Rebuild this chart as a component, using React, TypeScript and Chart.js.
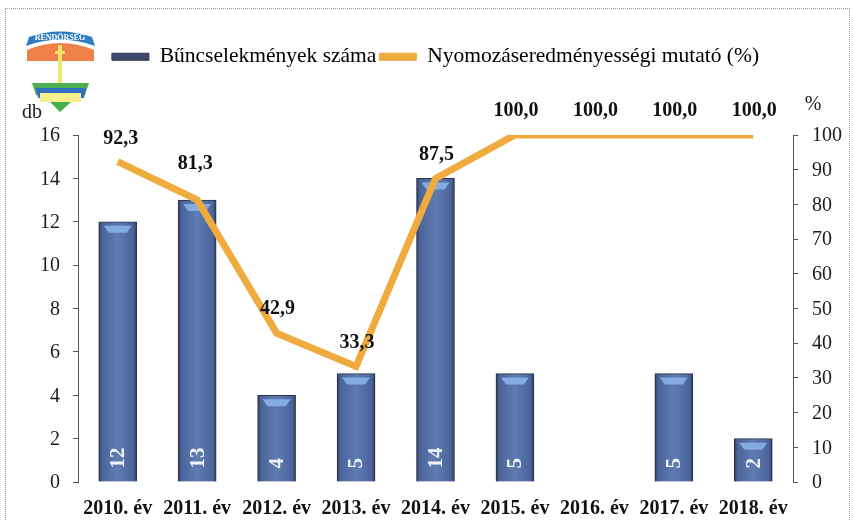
import React, { useEffect, useRef } from "react";
import { Chart, registerables } from "chart.js";

Chart.register(...registerables);

const categories = ["2010. év", "2011. év", "2012. év", "2013. év", "2014. év", "2015. év", "2016. év", "2017. év", "2018. év"];
const crimes = [12, 13, 4, 5, 14, 5, null, 5, 2];
const clearance = [92.3, 81.3, 42.9, 33.3, 87.5, 100, 100, 100, 100];
const clearanceLabels = ["92,3", "81,3", "42,9", "33,3", "87,5", "100,0", "100,0", "100,0", "100,0"];
const crimesName = "Bűncselekmények száma";
const clearanceName = "Nyomozáseredményességi mutató (%)";

const SERIF = "'Liberation Serif', serif";
const INK = "#1c1c1c";
const ORANGE = "#EFAB3E";

const decorations = {
  id: "decorations",
  beforeLayout(chart: any) {
    const l = chart.legend;
    if (l && !l.__wrapped) {
      const fit = l.fit;
      l.fit = function () {
        fit.call(this);
        this.height = 92;
      };
      l.__wrapped = true;
    }
  },
  afterDatasetsDraw(chart: any) {
    const { ctx } = chart;
    const barMeta = chart.getDatasetMeta(0);
    const lineMeta = chart.getDatasetMeta(1);
    ctx.save();
    barMeta.data.forEach((b: any, i: number) => {
      if (crimes[i] == null) return;
      ctx.save();
      ctx.translate(b.x, b.base - 13);
      ctx.rotate(-Math.PI / 2);
      ctx.fillStyle = "#eef2f8";
      ctx.font = `bold 21px ${SERIF}`;
      ctx.textAlign = "left";
      ctx.textBaseline = "middle";
      ctx.fillText(String(crimes[i]), 0, 1);
      ctx.restore();
    });
    ctx.fillStyle = "#111";
    ctx.font = `bold 20px ${SERIF}`;
    ctx.textAlign = "center";
    ctx.textBaseline = "middle";
    lineMeta.data.forEach((p: any, i: number) => {
      const lift = i === 0 ? 23 : i === 1 ? 36 : 24;
      const nudge = i === 0 ? 3 : i === 1 ? -2 : 1;
      ctx.fillText(clearanceLabels[i], p.x + nudge, p.y - lift);
    });
    ctx.font = `20px ${SERIF}`;
    ctx.fillStyle = INK;
    ctx.fillText("db", 32, 113);
    ctx.fillText("%", 813, 105);
    ctx.restore();
  },
  afterDatasetDraw(chart: any, args: any) {
    if (args.index !== 0) return;
    const { ctx } = chart;
    ctx.save();
    args.meta.data.forEach((b: any, i: number) => {
      if (crimes[i] == null) return;
      const w = b.width;
      const x0 = b.x - w / 2 + 5;
      const x1 = b.x + w / 2 - 5;
      ctx.fillStyle = "#84ACE2";
      ctx.beginPath();
      ctx.moveTo(x0, b.y + 4);
      ctx.lineTo(x1, b.y + 4);
      ctx.lineTo(x1 - 5, b.y + 11);
      ctx.lineTo(x0 + 5, b.y + 11);
      ctx.closePath();
      ctx.fill();
    });
    ctx.restore();
  },
};

export default function App() {
  const ref = useRef<HTMLCanvasElement>(null);
  useEffect(() => {
    const chart = new Chart(ref.current!, {
      type: "bar",
      plugins: [decorations],
      data: {
        labels: categories,
        datasets: [
          {
            type: "bar",
            label: crimesName,
            data: crimes,
            yAxisID: "y",
            barThickness: 38,
            order: 2,
            borderColor: "#2b3448",
            borderWidth: 1,
            backgroundColor: (c: any) => {
              const xs = c.chart.scales.x;
              if (!xs) return "#4f6a9c";
              const x = xs.getPixelForValue(c.dataIndex);
              const g = c.chart.ctx.createLinearGradient(x - 19, 0, x + 19, 0);
              g.addColorStop(0, "#2c3650");
              g.addColorStop(0.08, "#4a639a");
              g.addColorStop(0.5, "#5f7cb0");
              g.addColorStop(0.92, "#4a639a");
              g.addColorStop(1, "#2c3650");
              return g;
            },
          },
          {
            type: "line",
            label: clearanceName,
            data: clearance,
            yAxisID: "y1",
            borderColor: ORANGE,
            backgroundColor: ORANGE,
            borderWidth: 7,
            pointRadius: 0,
            tension: 0,
            order: 1,
            borderJoinStyle: "miter",
          },
        ] as any,
      },
      options: {
        responsive: false,
        animation: false,
        layout: { padding: { left: 18, right: 0, top: 43, bottom: 0 } },
        plugins: {
          tooltip: { enabled: false },
          legend: {
            position: "top",
            labels: {
              boxWidth: 37,
              boxHeight: 7,
              padding: 3,
              color: INK,
              font: { family: SERIF, size: 21.5 },
              generateLabels: () => [
                { text: crimesName, fillStyle: "#3c4a6e", strokeStyle: "#2b3448", lineWidth: 1, datasetIndex: 0 },
                { text: clearanceName, fillStyle: ORANGE, strokeStyle: ORANGE, lineWidth: 1, datasetIndex: 1 },
              ],
            },
          },
        },
        scales: {
          x: {
            grid: { display: false },
            border: { display: false },
            ticks: { color: "#111", font: { family: SERIF, size: 20, weight: "bold" }, maxRotation: 0, autoSkip: false, padding: 7 },
            afterFit: (s: any) => { s.height = 38; },
          },
          y: {
            position: "left",
            min: 0,
            max: 16,
            grid: { drawOnChartArea: false, drawTicks: true, tickLength: 5, color: "#555" },
            border: { display: true, color: "#555", dash: [1, 1] },
            ticks: { stepSize: 2, color: INK, font: { family: SERIF, size: 20 }, padding: 13, labelOffset: 1 },
            afterFit: (s: any) => { s.width = 60; },
          },
          y1: {
            position: "right",
            min: 0,
            max: 100,
            grid: { drawOnChartArea: false, drawTicks: true, tickLength: 5, color: "#555" },
            border: { display: true, color: "#555", dash: [1, 1] },
            ticks: { stepSize: 10, color: INK, font: { family: SERIF, size: 20 }, padding: 14, labelOffset: 1 },
            afterFit: (s: any) => { s.width = 60; },
          },
        },
      } as any,
    });
    return () => chart.destroy();
  }, []);

  return (
    <div style={{ position: "fixed", left: 0, top: 0, width: 853, height: 520, background: "#fff" }}>
      <canvas ref={ref} width={853} height={520} style={{ position: "absolute", left: 0, top: 0 }} />
      <div style={{ position: "absolute", left: 5, top: 8, width: 845, height: 512, border: "1px dotted #999", borderBottom: "none", boxSizing: "border-box" }} />
      <svg width="80" height="90" style={{ position: "absolute", left: 22, top: 26 }} viewBox="22 26 80 90">
        <path d="M27 61 L27 50 Q60 36 94 50 L94 61 Z" fill="#F0804A" />
        <path d="M26 46 L29 37 Q60 26 92 37 L95 46 Q60 33 26 46 Z" fill="#2F7CC0" />
        <text x="60" y="40" textAnchor="middle" fontFamily={SERIF} fontWeight="bold" fontSize="8" fill="#fff">RENDŐRSÉG</text>
        <rect x="58" y="45" width="4" height="43" fill="#F3E46A" />
        <rect x="55" y="51" width="10" height="3" fill="#F3E46A" />
        <path d="M32 83 L89 83 L85 95 L36 95 Z" fill="#4CAF50" />
        <path d="M36 88 L86 88 L84 98 L38 98 Z" fill="#2F6FC0" />
        <rect x="40" y="93" width="41" height="9" fill="#F6F08A" />
        <path d="M50 102 L71 102 L60 112 Z" fill="#43B04A" />
      </svg>
    </div>
  );
}
